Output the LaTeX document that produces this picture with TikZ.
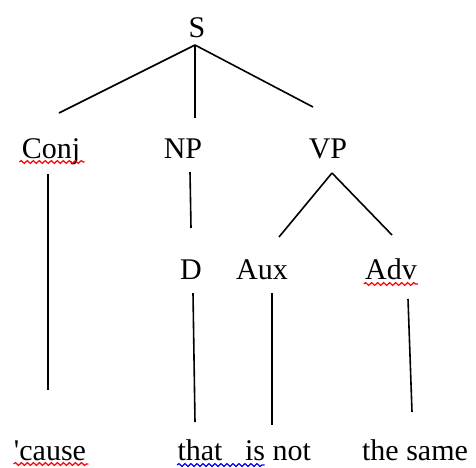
\documentclass[tikz,border=0pt]{standalone}
\usepackage{fontspec}
\setmainfont{Liberation Serif}
\usetikzlibrary{decorations.pathmorphing}
\tikzset{
  cat/.style={anchor=base, inner sep=0pt, font=\fontsize{15}{18}\selectfont},
  branch/.style={line width=0.8pt},
  typo/.style={decorate, decoration={snake, amplitude=0.7pt, segment length=3pt}, line width=0.6pt, red},
  gram/.style={typo, blue},
}
\begin{document}
\begin{tikzpicture}[x=0.5pt, y=-0.5pt]
\useasboundingbox (0,0) rectangle (476,467);
% labels
\node[cat] (s) at (197,37){S};
\node[cat] (conj) at (51,158){Conj};
\node[cat] (np) at (183,158){NP};
\node[cat] (vp) at (328,158){VP};
\node[cat] (d) at (191,279){D};
\node[cat] (aux) at (262,279){Aux};
\node[cat] (adv) at (391,279){Adv};
\node[cat] (cause) at (50,460){\textquotesingle cause};
\node[cat] (that) at (200,460){that};
\node[cat] (isnot) at (278,460){is not};
\node[cat] (same) at (415,460){the same};
% branch ends
\coordinate (sfoot) at (195,45);
\coordinate (conjhead) at (59,113);
\coordinate (nphead) at (195,118);
\coordinate (vphead) at (313,107);
\coordinate (conjfoot) at (48,174);
\coordinate (causehead) at (48,390);
\coordinate (npfoot) at (190,172);
\coordinate (dhead) at (191,228);
\coordinate (vpfoot) at (332,173);
\coordinate (auxhead) at (279,237);
\coordinate (advhead) at (392,235);
\coordinate (dfoot) at (193,293);
\coordinate (thathead) at (195,422);
\coordinate (auxfoot) at (272,293);
\coordinate (isnothead) at (272,425);
\coordinate (advfoot) at (408,299);
\coordinate (samehead) at (412,412);
\draw[branch](sfoot) -- (conjhead);
\draw[branch](sfoot) -- (nphead);
\draw[branch](sfoot) -- (vphead);
\draw[branch](conjfoot) -- (causehead);
\draw[branch](npfoot) -- (dhead);
\draw[branch](vpfoot) -- (auxhead);
\draw[branch](vpfoot) -- (advhead);
\draw[branch](dfoot) -- (thathead);
\draw[branch](auxfoot) -- (isnothead);
\draw[branch](advfoot) -- (samehead);
% spelling marks
\draw[typo]([shift={(-1pt,-2pt)}]conj.base west) -- ([shift={(2pt,-2pt)}]conj.base east);
\draw[typo]([shift={(-0.5pt,-2.5pt)}]adv.base west) -- ([shift={(0.5pt,-2.5pt)}]adv.base east);
\draw[typo]([shift={(0pt,-2pt)}]cause.base west) -- ([shift={(1pt,-2pt)}]cause.base east);
\draw[gram]([shift={(0pt,-2.5pt)}]that.base west) -- ([shift={(10pt,-2.5pt)}]isnot.base west);
\end{tikzpicture}
\end{document}
